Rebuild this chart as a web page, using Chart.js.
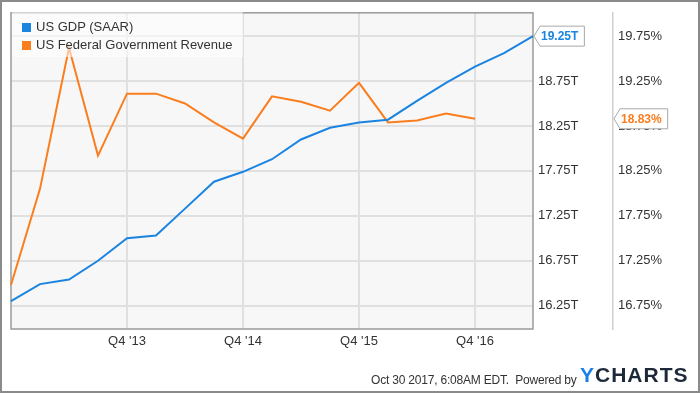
<!DOCTYPE html>
<html>
<head>
<meta charset="utf-8">
<script src="https://cdn.jsdelivr.net/npm/chart.js@4"></script>
<style>
  html, body { margin: 0; padding: 0; background: #fff; }
  #wrap { position: relative; width: 700px; height: 393px; font-family: "Liberation Sans", Arial, sans-serif; }
  #frame { position: absolute; left: 0; top: 0; width: 696px; height: 389px; border: 2px solid #8a8a8a; pointer-events: none; }
  #legend { position: absolute; left: 12px; top: 12px; width: 231px; height: 45px; background: rgba(255,255,255,0.55); font-size: 13px; color: #333; }
  #legend div { position: absolute; left: 10px; white-space: nowrap; }
  #legend span { display: inline-block; width: 9px; height: 9px; margin-right: 5px; vertical-align: -1px; }
  #footer { position: absolute; left: 371px; top: 373px; font-size: 12px; color: #333; letter-spacing: -0.2px; }
  #logo { position: absolute; left: 580px; top: 363px; font-size: 21px; font-weight: bold; letter-spacing: 1px; color: #1d2838; }
  #logo b { color: #1a7fe6; }
</style>
</head>
<body>
<div id="wrap">
  <canvas id="chart" width="700" height="393"></canvas>
  <div id="legend">
    <div style="top:7px"><span style="background:#1a84e0"></span>US GDP (SAAR)</div>
    <div style="top:25px"><span style="background:#fa7d1e"></span>US Federal Government Revenue</div>
  </div>
  <div id="footer">Oct 30 2017, 6:08AM EDT.&nbsp; Powered by</div>
  <div id="logo"><b>Y</b>CHARTS</div>
  <div id="frame"></div>
</div>
<script>
const quarters = ["Q4 '12", "Q1 '13", "Q2 '13", "Q3 '13", "Q4 '13", "Q1 '14", "Q2 '14", "Q3 '14",
  "Q4 '14", "Q1 '15", "Q2 '15", "Q3 '15", "Q4 '15", "Q1 '16", "Q2 '16", "Q3 '16", "Q4 '16", "Q1 '17", "Q2 '17"];

// US GDP, trillions USD (SAAR)
const gdp = [16.30, 16.49, 16.54, 16.75, 17.00, 17.03, 17.33, 17.63, 17.74, 17.88,
  18.10, 18.23, 18.29, 18.32, 18.53, 18.73, 18.91, 19.06, 19.25];

// federal revenue, percent
const revenue = [16.98, 18.05, 19.62, 18.42, 19.11, 19.11, 19.00, 18.79, 18.61, 19.08,
  19.02, 18.92, 19.23, 18.79, 18.81, 18.89, 18.83];

const gdpTicks = [16.25, 16.75, 17.25, 17.75, 18.25, 18.75, 19.25];
const revTicks = [16.75, 17.25, 17.75, 18.25, 18.75, 19.25, 19.75];

const BLUE = "#1a84e0";
const ORANGE = "#fa7d1e";

Chart.defaults.font.family = '"Liberation Sans", Arial, sans-serif';
Chart.defaults.font.size = 13;
Chart.defaults.color = "#333";

const plotBox = {
  id: "plotBox",
  beforeDraw(chart) {
    const { ctx, chartArea: a } = chart;
    ctx.save();
    ctx.fillStyle = "#f7f7f7";
    ctx.fillRect(a.left, a.top, a.right - a.left, a.bottom - a.top);
    ctx.restore();
  },
  beforeDatasetsDraw(chart) {
    const { ctx, chartArea: a } = chart;
    ctx.save();
    ctx.strokeStyle = "#9a9a9a";
    ctx.lineWidth = 1.5;
    ctx.strokeRect(a.left, a.top, a.right - a.left, a.bottom - a.top);
    ctx.restore();
  }
};

function drawTag(ctx, x, y, text, color) {
  ctx.save();
  ctx.font = 'bold 12px "Liberation Sans", Arial, sans-serif';
  const w = ctx.measureText(text).width + 14;
  ctx.beginPath();
  ctx.moveTo(x + 1, y);
  ctx.lineTo(x + 7, y - 10);
  ctx.lineTo(x + w, y - 10);
  ctx.lineTo(x + w, y + 10);
  ctx.lineTo(x + 7, y + 10);
  ctx.closePath();
  ctx.fillStyle = "#fff";
  ctx.fill();
  ctx.strokeStyle = "#a8a8a8";
  ctx.lineWidth = 1;
  ctx.stroke();
  ctx.fillStyle = color;
  ctx.textBaseline = "middle";
  ctx.fillText(text, x + 8, y + 1);
  ctx.restore();
}

const tags = {
  id: "tags",
  afterDraw(chart) {
    const ctx = chart.ctx;
    const g = gdp[gdp.length - 1];
    const r = revenue[revenue.length - 1];
    drawTag(ctx, chart.chartArea.right, chart.scales.y.getPixelForValue(g), g.toFixed(2) + "T", BLUE);
    drawTag(ctx, chart.scales.y2.left, chart.scales.y2.getPixelForValue(r), r.toFixed(2) + "%", ORANGE);
  }
};

new Chart(document.getElementById("chart"), {
  type: "line",
  data: {
    labels: quarters,
    datasets: [
      { label: "US GDP (SAAR)", data: gdp, yAxisID: "y", borderColor: BLUE, borderWidth: 2, pointRadius: 0, tension: 0 },
      { label: "US Federal Government Revenue", data: revenue, yAxisID: "y2", borderColor: ORANGE, borderWidth: 2, pointRadius: 0, tension: 0 }
    ]
  },
  options: {
    responsive: false,
    animation: false,
    layout: { padding: { left: 11, top: 11, right: 0, bottom: 0 } },
    plugins: { legend: { display: false }, tooltip: { enabled: false } },
    scales: {
      x: {
        offset: false,
        grid: { color: "#e0e0e0", lineWidth: 2, drawTicks: false },
        border: { display: false },
        ticks: { autoSkip: false, maxRotation: 0, padding: 5 },
        afterBuildTicks: s => {
          s.ticks = s.ticks.filter(t => t.value > 0 && quarters[t.value].startsWith("Q4"));
        },
        afterFit: s => { s.height = 64; }
      },
      y: {
        position: "right",
        min: 15.99,
        max: 19.51,
        grid: { color: "#e0e0e0", lineWidth: 2, drawTicks: false },
        border: { display: false },
        ticks: { padding: 5, callback: v => v.toFixed(2) + "T" },
        afterBuildTicks: s => { s.ticks = gdpTicks.map(v => ({ value: v })); },
        afterFit: s => { s.width = 80; }
      },
      y2: {
        position: "right",
        min: 16.49,
        max: 20.01,
        grid: { drawOnChartArea: false, drawTicks: false },
        border: { display: true, color: "#cfcfcf", width: 1.5 },
        ticks: { padding: 5, callback: v => v.toFixed(2) + "%" },
        afterBuildTicks: s => { s.ticks = revTicks.map(v => ({ value: v })); },
        afterFit: s => { s.width = 87; }
      }
    }
  },
  plugins: [plotBox, tags]
});
</script>
</body>
</html>
